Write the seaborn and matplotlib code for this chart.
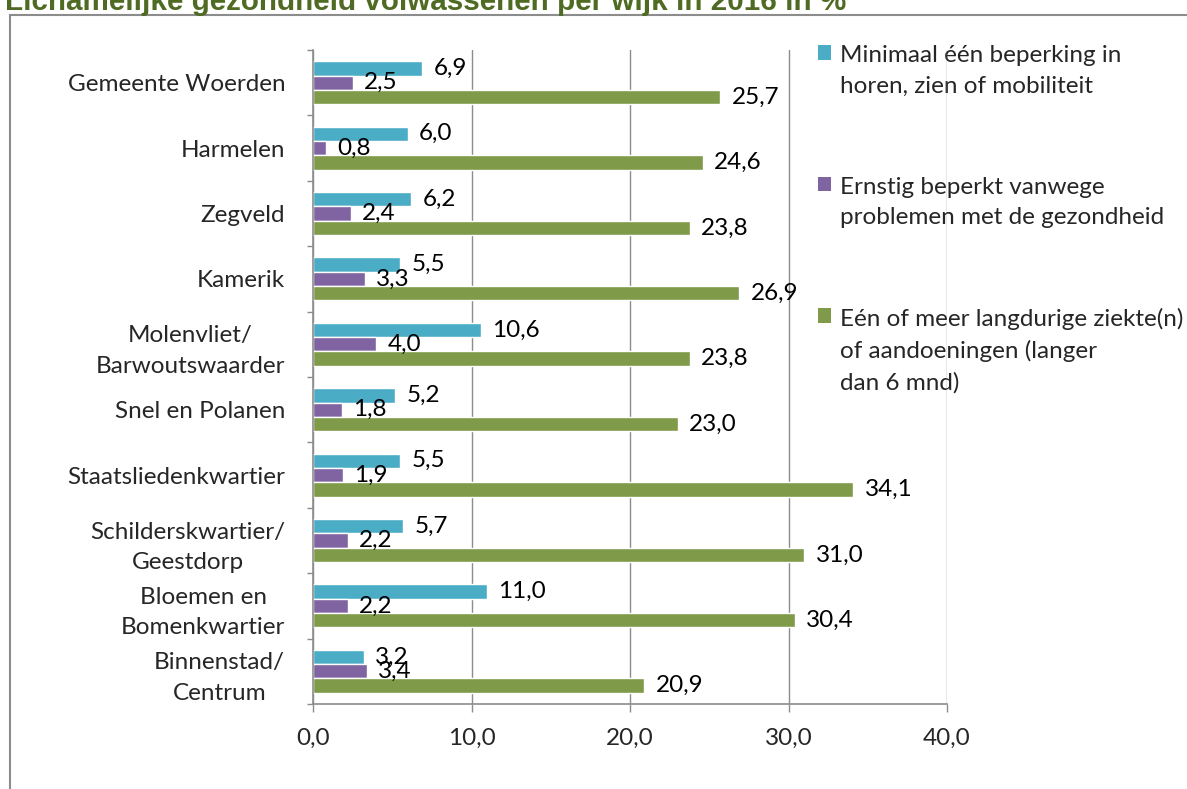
import pandas as pd
import seaborn as sns
import matplotlib.pyplot as plt
from matplotlib.patches import Patch, Rectangle

sns.set_theme(style="white")
plt.rcParams["font.family"] = ["Lato", "DejaVu Sans"]

# data (percentages)
wijken = [
    "Gemeente Woerden",
    "Harmelen",
    "Zegveld",
    "Kamerik",
    "Molenvliet/\nBarwoutswaarder",
    "Snel en Polanen",
    "Staatsliedenkwartier",
    "Schilderskwartier/\nGeestdorp",
    "Bloemen en\nBomenkwartier",
    "Binnenstad/\nCentrum",
]
beperking = [6.9, 6.0, 6.2, 5.5, 10.6, 5.2, 5.5, 5.7, 11.0, 3.2]
ernstig = [2.5, 0.8, 2.4, 3.3, 4.0, 1.8, 1.9, 2.2, 2.2, 3.4]
langdurig = [25.7, 24.6, 23.8, 26.9, 23.8, 23.0, 34.1, 31.0, 30.4, 20.9]

series_names = [
    "Minimaal één beperking in\nhoren, zien of mobiliteit",
    "Ernstig beperkt vanwege\nproblemen met de gezondheid",
    "Eén of meer langdurige ziekte(n)\nof aandoeningen (langer\ndan 6 mnd)",
]
colors = ["#4BACC6", "#8064A2", "#7F9A48"]
x_ticks = [0, 10, 20, 30, 40]

W, H = 1187, 789
FS = 17.5
GRAY = "#8C8C8C"


def comma(v):
    return f"{v:.1f}".replace(".", ",")


def build_frame():
    rows = []
    for name, vals in zip(series_names, [beperking, ernstig, langdurig]):
        for wijk, v in zip(wijken, vals):
            rows.append({"wijk": wijk, "reeks": name, "waarde": v})
    return pd.DataFrame(rows)


def main():
    df = build_frame()
    fig = plt.figure(figsize=(W / 100, H / 100), dpi=100)
    ax = fig.add_axes([313 / W, 1 - 704 / H, (947 - 313) / W, (704 - 50) / H])
    ax.set_axisbelow(True)

    sns.barplot(data=df, y="wijk", x="waarde", hue="reeks", orient="h",
                order=wijken, hue_order=series_names, palette=colors,
                width=0.66, saturation=1, legend=False, ax=ax)

    for cont, vals in zip(ax.containers, [beperking, ernstig, langdurig]):
        ax.bar_label(cont, labels=[comma(v) for v in vals], padding=8,
                     fontsize=FS, color="black")

    ax.set_xlim(0, 40)
    ax.set_ylim(len(wijken) - 0.5, -0.5)
    ax.set_xticks(x_ticks)
    ax.set_xticklabels([comma(t) for t in x_ticks], fontsize=FS)
    ax.set_yticks(range(len(wijken)))
    ax.set_yticklabels(wijken, fontsize=FS, multialignment="center", linespacing=1.55)
    ax.set_yticks([i - 0.5 for i in range(len(wijken) + 1)], minor=True)
    ax.tick_params(axis="y", which="major", length=0, pad=20)
    ax.tick_params(axis="y", which="minor", length=4.5, width=1, color=GRAY, left=True)
    ax.tick_params(axis="x", length=6, width=1, color=GRAY, bottom=True, pad=11)
    ax.set_xlabel("")
    ax.set_ylabel("")

    ax.grid(axis="x", color=GRAY, linewidth=1)
    sns.despine(ax=ax, top=True, right=True)
    for side in ["left", "bottom"]:
        ax.spines[side].set_color(GRAY)
        ax.spines[side].set_linewidth(1.2)

    # legend sits under the 40,0 gridline, like the original
    handles = [Patch(facecolor=c, edgecolor="none") for c in colors]
    leg = ax.legend(handles, series_names, loc="upper left",
                    bbox_to_anchor=(818 / W, 1 - 45 / H),
                    bbox_transform=fig.transFigure, frameon=False,
                    fontsize=FS, handlelength=0.55, handleheight=0.55,
                    handletextpad=0.35, labelspacing=3.3,
                    borderpad=0, borderaxespad=0)
    for txt in leg.get_texts():
        txt.set_linespacing(1.55)
    for hp in leg._legend_handle_box.get_children()[0].get_children():
        hp.align = "top"
    leg.set_zorder(0.4)

    # outer chart border and clipped title
    fig.patches.append(Rectangle((10 / W, -0.01), 1.0, 1 - 15 / H + 0.01,
                                 transform=fig.transFigure, fill=False,
                                 edgecolor=GRAY, linewidth=1.5))
    fig.text(5 / W, 1 - 10 / H, "Lichamelijke gezondheid volwassenen per wijk in 2016 in %",
             fontsize=21.3, fontweight="bold", color="#4F6A22",
             family="Liberation Sans", va="baseline", ha="left")

    fig.savefig("out.png", dpi=100)


if __name__ == "__main__":
    main()
